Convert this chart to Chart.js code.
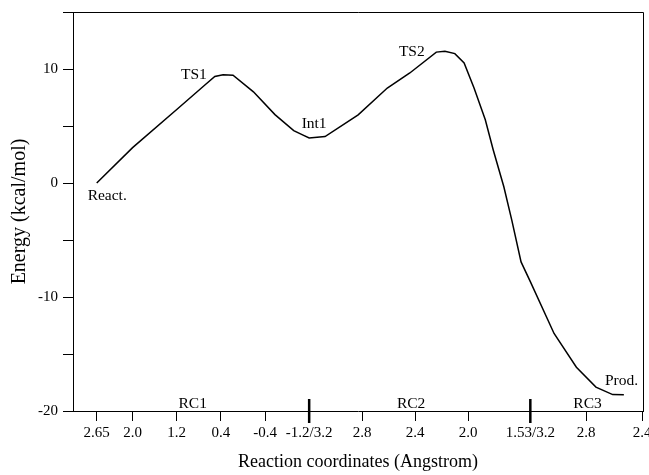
<!DOCTYPE html>
<html>
<head>
<meta charset="utf-8">
<script src="https://cdn.jsdelivr.net/npm/chart.js@4/dist/chart.umd.min.js"></script>
<style>
  body { margin: 0; background: #fff; }
  #wrap { width: 649px; height: 475px; }
</style>
</head>
<body>
<div id="wrap"><canvas id="grafico"></canvas></div>
<script>
// reaction coordinate segments (RC1, RC2, RC3)
const segNames = ['RC1', 'RC2', 'RC3'];
const segStart = [2.65, 3.2, 3.2];
const segEnd = [-1.2, 1.53, 2.4];
const segScale = [1, 2.4, 2.53];
// where the segment name sits, in that segment's coordinate
const segNameCoord = [0.91, 2.43, 2.79];

// energy profile (coordinate in Angstrom, energy in kcal/mol)
const rc1Coord = [2.65, 2.0, 1.2, 0.69, 0.51, 0.36, 0.18, -0.19, -0.58, -0.92, -1.09];
const rc1Energy = [0.0, 3.1, 6.45, 8.6, 9.35, 9.5, 9.45, 8.0, 6.0, 4.6, 4.2];
const rc2Coord = [3.2, 3.08, 2.83, 2.61, 2.44, 2.24, 2.175, 2.10, 2.03, 1.955, 1.87, 1.81, 1.73, 1.67, 1.60, 1.53];
const rc2Energy = [3.95, 4.07, 5.98, 8.33, 9.65, 11.48, 11.55, 11.35, 10.53, 8.33, 5.54, 2.9, -0.33, -3.25, -6.92, -8.65];
const rc3Coord = [3.2, 3.03, 2.87, 2.73, 2.61, 2.53];
const rc3Energy = [-8.65, -13.2, -16.16, -17.9, -18.56, -18.58];

// x axis ticks
const tickSeg = [0, 0, 0, 0, 0, 0, 1, 1, 1, 1, 2, 2];
const tickCoord = [2.65, 2.0, 1.2, 0.4, -0.4, -1.2, 2.8, 2.4, 2.0, 1.53, 2.8, 2.4];
const tickLabels = ['2.65', '2.0', '1.2', '0.4', '-0.4', '-1.2/3.2', '2.8', '2.4', '2.0', '1.53/3.2', '2.8', '2.4'];

// y axis
const yMin = -20, yMax = 15, yStep = 5;

// point labels: [text, segment, coordinate, energy]
const pointLabels = [
  ['React.', 0, 2.46, -1.1],
  ['TS1', 0, 0.89, 9.5],
  ['Int1', 0, -1.29, 5.15],
  ['TS2', 1, 2.425, 11.5],
  ['Prod.', 2, 2.547, -17.4]
];

// path position of every segment
const segOffset = [0];
for (let i = 1; i < segStart.length; i++) {
  segOffset.push(segOffset[i - 1] + (segStart[i - 1] - segEnd[i - 1]) * segScale[i - 1]);
}
function pathPos(seg, r) {
  return segOffset[seg] + (segStart[seg] - r) * segScale[seg];
}

const pontos = [];
[[rc1Coord, rc1Energy], [rc2Coord, rc2Energy], [rc3Coord, rc3Energy]].forEach(function(par, s) {
  par[0].forEach(function(r, i) {
    pontos.push({ x: pathPos(s, r), y: par[1][i] });
  });
});
const tickPos = tickCoord.map(function(r, i) { return pathPos(tickSeg[i], r); });

const FONTE = "'Liberation Serif', 'Times New Roman', serif";

const extras = {
  id: 'extras',
  afterDraw: function(chart) {
    const ctx = chart.ctx;
    const a = chart.chartArea;
    const xs = chart.scales.x, ys = chart.scales.y;
    ctx.save();
    ctx.strokeStyle = '#000';
    ctx.lineWidth = 1;
    // top and right frame
    ctx.beginPath();
    ctx.moveTo(a.left, a.top + 0.5);
    ctx.lineTo(a.right + 0.5, a.top + 0.5);
    ctx.lineTo(a.right + 0.5, a.bottom);
    ctx.stroke();
    // thick separators between segments
    ctx.lineWidth = 2.5;
    for (let i = 1; i < segOffset.length; i++) {
      const px = xs.getPixelForValue(segOffset[i]);
      ctx.beginPath();
      ctx.moveTo(px, a.bottom - 12);
      ctx.lineTo(px, a.bottom + 12);
      ctx.stroke();
    }
    ctx.fillStyle = '#000';
    ctx.font = '15.5px ' + FONTE;
    ctx.textAlign = 'center';
    ctx.textBaseline = 'middle';
    // segment names
    segNames.forEach(function(n, i) {
      ctx.fillText(n, xs.getPixelForValue(pathPos(i, segNameCoord[i])), a.bottom - 7);
    });
    pointLabels.forEach(function(p) {
      ctx.fillText(p[0], xs.getPixelForValue(pathPos(p[1], p[2])), ys.getPixelForValue(p[3]));
    });
    ctx.restore();
  }
};

new Chart(document.getElementById('grafico'), {
  type: 'line',
  data: {
    datasets: [{
      data: pontos,
      borderColor: '#000',
      borderWidth: 1.5,
      pointRadius: 0,
      tension: 0,
      fill: false
    }]
  },
  options: {
    responsive: true,
    maintainAspectRatio: false,
    animation: false,
    layout: { padding: { left: 0, top: 12, right: 6, bottom: 0 } },
    plugins: { legend: { display: false }, tooltip: { enabled: false } },
    scales: {
      x: {
        type: 'linear',
        min: -0.43,
        max: 9.9,
        afterBuildTicks: function(scale) {
          scale.ticks = tickPos.map(function(v) { return { value: v }; });
        },
        afterFit: function(scale) {
          scale.height = 64;
          scale.paddingLeft = 0;
          scale.paddingRight = 0;
        },
        ticks: {
          autoSkip: false,
          maxRotation: 0,
          color: '#000',
          padding: 3,
          font: { family: FONTE, size: 15 },
          callback: function(v, i) { return tickLabels[i]; }
        },
        grid: { drawOnChartArea: false, tickLength: 10, tickColor: '#000' },
        border: { display: true, color: '#000', width: 1 },
        title: {
          display: true,
          text: 'Reaction coordinates (Angstrom)',
          color: '#000',
          font: { family: FONTE, size: 18 },
          padding: { top: 0, bottom: 2 }
        }
      },
      y: {
        min: yMin,
        max: yMax,
        afterFit: function(scale) {
          scale.width = 73;
          scale.paddingTop = 0;
          scale.paddingBottom = 0;
        },
        ticks: {
          stepSize: yStep,
          color: '#000',
          padding: 5,
          font: { family: FONTE, size: 15 },
          callback: function(v) { return v % 10 === 0 ? String(v) : ''; }
        },
        grid: { drawOnChartArea: false, tickLength: 10, tickColor: '#000' },
        border: { display: true, color: '#000', width: 1 },
        title: {
          display: true,
          text: 'Energy (kcal/mol)',
          color: '#000',
          font: { family: FONTE, size: 20 },
          padding: { top: 8, bottom: 0 }
        }
      }
    }
  },
  plugins: [extras]
});
</script>
</body>
</html>
